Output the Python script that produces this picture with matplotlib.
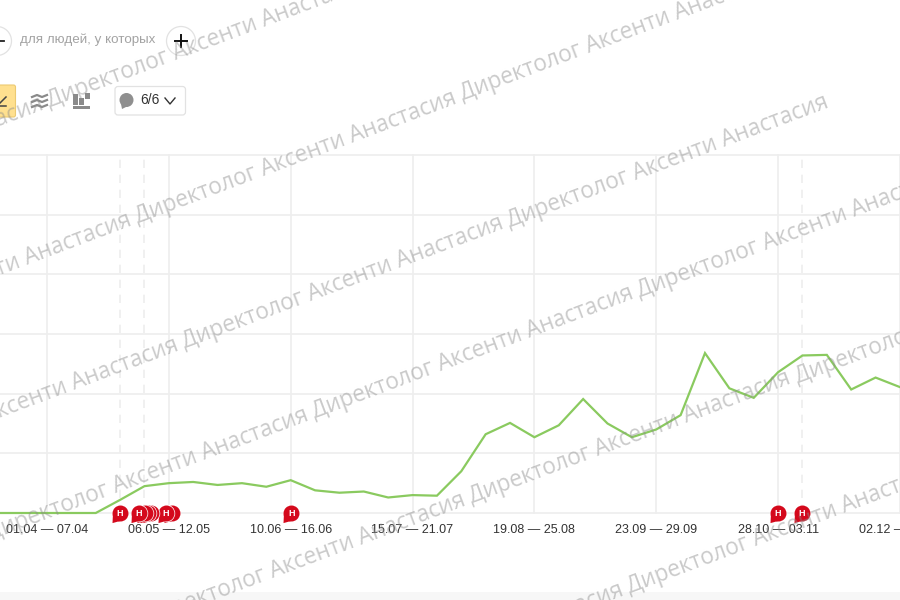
import matplotlib
matplotlib.use("Agg")
import matplotlib.pyplot as plt
from matplotlib.patches import Circle, FancyBboxPatch, Rectangle
from matplotlib.path import Path

plt.rcParams['font.family'] = ['Liberation Sans', 'DejaVu Sans']

# --- data (value = 100 per horizontal grid band) ---
weeks = list(range(-2, 36))
visits = [0, 0, 0, 0, 0, 22, 45, 50, 52, 47, 50, 44, 55, 38, 34, 36, 26, 30, 29,
          70, 132, 151, 127, 147, 191, 150, 127, 140, 164, 268, 209, 193, 236,
          264, 265, 207, 227, 211]
tick_weeks = [0, 5, 10, 15, 20, 25, 30, 35]
tick_labels = ['01.04 — 07.04', '06.05 — 12.05', '10.06 — 16.06', '15.07 — 21.07',
               '19.08 — 25.08', '23.09 — 29.09', '28.10 — 03.11', '02.12 — 08.12']
grid_values = [0, 100, 200, 300, 400, 500, 600]
dashed_weeks = [3, 4, 31]
event_weeks = [3.0, 3.77, 4.02, 4.14, 4.25, 4.88, 5.13, 10.03, 30.0, 30.98]
labelled_events = [3.0, 3.77, 4.88, 10.03, 30.0, 30.98]

WEEK_PX = 24.37
fig = plt.figure(figsize=(9, 6), dpi=100)
ax = fig.add_axes([0, (600 - 513) / 600, 1, (513 - 155) / 600])
ax.set_xlim(-47 / WEEK_PX, (900 - 47) / WEEK_PX)
ax.set_ylim(0, 600)
for s in ax.spines.values():
    s.set_visible(False)
GRID = '#eeeeee'
ax.set_yticks(grid_values)
ax.set_yticklabels([])
ax.set_xticks(tick_weeks)
ax.set_xticklabels(tick_labels, fontsize=9, color='#333333')
ax.tick_params(length=0, pad=8)
ax.grid(True, color=GRID, lw=1.2, clip_on=False)
ax.set_axisbelow(True)
for w in dashed_weeks:
    ax.axvline(w, color=GRID, lw=1.2, ls=(0, (5, 4)))
ax.plot(weeks, visits, color='#8aca5f', lw=1.6, solid_joinstyle='miter', zorder=3, clip_on=False)

# event bubbles: white halo, then red circle with a small tail
circ = Path.circle((0, 0), 1)
tail = Path([(-0.95, -0.2), (-1.0, -1.2), (-0.1, -0.95), (-0.95, -0.2)],
            [Path.MOVETO, Path.LINETO, Path.LINETO, Path.CLOSEPOLY])
bubble = Path.make_compound_path(circ, tail)
for i, w in enumerate(sorted(event_weeks, reverse=True)):
    z = 5 + i * 0.01
    ax.scatter([w], [0], marker='o', s=157, color='white', linewidth=0, zorder=z, clip_on=False)
    ax.scatter([w], [0], marker=bubble, s=191, color='#d4091c', linewidth=0, zorder=z + 0.005,
               clip_on=False)
for w in labelled_events:
    ax.text(w, 0, 'Н', color='white', fontsize=6.5, fontweight='bold', ha='center',
            va='center', zorder=6, clip_on=False)

# --- page chrome in pixel coordinates ---
ov = fig.add_axes([0, 0, 1, 1], facecolor='none')
ov.set_xlim(0, 900)
ov.set_ylim(600, 0)
ov.axis('off')
ov.add_patch(Rectangle((0, 592), 900, 8, color='#f7f7f7', lw=0))
for cx, cy in [(-3, 41), (181, 41)]:
    ov.add_patch(Circle((cx, cy), 14.5, fc='white', ec='#e2e2e2', lw=0.9))
ov.plot([-3, 4], [41, 41], color='#222222', lw=1.3)
ov.plot([175, 187], [41, 41], color='#111111', lw=1.4)
ov.plot([181, 181], [35, 47], color='#111111', lw=1.4)
ov.text(20, 40, 'для людей, у которых', fontsize=9.6, color='#a3a3a3', va='center')
ov.add_patch(FancyBboxPatch((-10, 85), 25.5, 32, boxstyle='round,pad=0,rounding_size=2',
                            fc='#ffe08f', ec='#ecca72', lw=0.8))
ov.plot([0, 6], [103, 97], color='#444444', lw=1.1)
ov.plot([0, 6], [106, 106], color='#444444', lw=1.1)
for off in (0, 5, 10):
    ov.plot([32, 37, 42, 47], [97 + off, 95 + off, 97 + off, 95 + off], color='#8a8a8a', lw=1.6)
for x0, top, h in [(73, 94, 11), (79, 98, 7), (85, 93, 6)]:
    ov.add_patch(Rectangle((x0, top), 4.5, h, color='#8a8a8a', lw=0))
ov.add_patch(Rectangle((73, 106), 16.5, 2.5, color='#8a8a8a', lw=0))
ov.add_patch(FancyBboxPatch((115, 86.5), 70.5, 28.5, boxstyle='round,pad=0,rounding_size=3',
                            fc='white', ec='#e2e2e2', lw=0.9))
ov.add_patch(Circle((126.5, 100), 7, color='#8f8f8f', lw=0))
ov.fill([121, 122, 128], [104, 109, 106], color='#8f8f8f', lw=0)
ov.text(140, 100, '6/6', fontsize=9.9, color='#333333', va='center')
ov.plot([165, 170, 175], [98, 104, 98], color='#333333', lw=1)

# watermark: start of each phrase, in page pixels
phrase = 'Директолог Аксенти Анастасия'
anchors = [(-275, 229), (50, 107),
           (-187, 345), (138, 223), (463, 100),
           (-140, 470), (185, 348), (510, 227),
           (-10, 540), (315, 418), (640, 297),
           (147, 625), (472, 503), (798, 383),
           (305, 715), (630, 593)]
for x0, y0 in anchors:
    ov.text(x0, y0, phrase, fontsize=16.25, family=['Open Sans', 'DejaVu Sans'], color='#8c8c8c',
            alpha=0.46, rotation=20.6, rotation_mode='anchor', ha='left', va='baseline',
            zorder=10, clip_on=True)

fig.savefig('out.png', dpi=100)
